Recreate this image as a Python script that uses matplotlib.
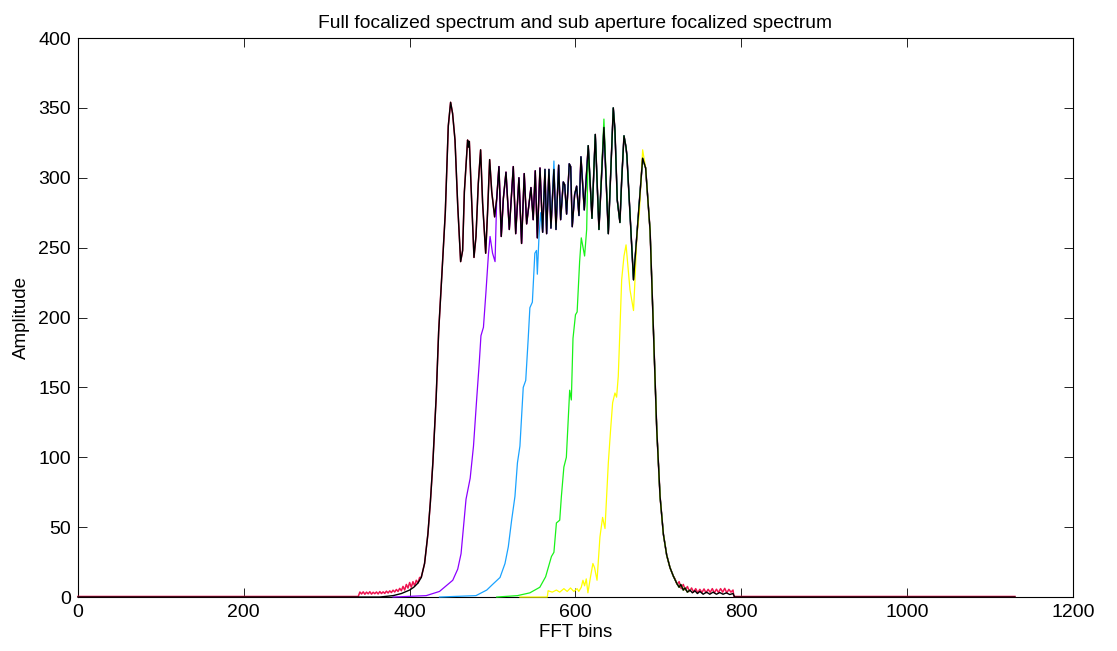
import matplotlib
matplotlib.use("Agg")
import matplotlib.pyplot as plt

plt.rcParams['font.family'] = ['Liberation Sans', 'DejaVu Sans']

# full focalized spectrum (black) as (bin, amplitude) vertices
full_bins = [0, 364, 380, 390, 396, 400, 405, 410, 414, 418, 422, 425, 428, 432, 435, 439, 443,
             446.6, 449.4, 451.8, 454.7, 458, 461.5, 463.9, 466, 469.9, 471, 472, 474, 477.6, 480,
             482.8, 485.6, 488, 491.7, 494.1, 496.5, 499, 502.5, 505, 507.7, 510.5, 513, 516.2,
             520.2, 525, 527.9, 531.8, 535, 538.2, 541.1, 546.3, 549, 551.5, 554, 557.2, 560.4,
             563.2, 565.2, 568, 570.4, 574, 576.5, 579.7, 582.1, 585.3, 587, 589.3, 592.5, 594.2,
             596.1, 599, 601.4, 604.2, 606.6, 610.6, 615.4, 619.9, 623.9, 628.3, 634.3, 639.6,
             645.6, 647.6, 650.4, 652, 653.6, 655.7, 658.5, 660.9, 662, 670, 681, 684.6, 690, 694,
             698, 702, 706, 710, 714, 718, 722, 725, 727, 730, 732, 735, 738, 741, 744, 747, 750,
             754, 758, 762, 766, 770, 774, 778, 782, 786, 790, 792, 1130]
full_vals = [0, 0, 1, 2.5, 4, 5, 7, 10, 14, 24, 45, 68, 96, 143, 190, 232, 275,
             337, 354, 346, 327, 280, 240, 248, 290, 327, 322, 326, 295, 243, 258,
             296, 320, 282, 246, 277, 313, 290, 272, 285, 308, 258, 285, 304,
             263, 308, 260, 300, 253, 303, 267, 293, 270, 305, 257, 307, 261,
             306, 260, 306, 264, 306, 263, 309, 270, 297, 295, 274, 310, 308,
             265, 288, 294, 273, 315, 277, 323, 271, 331, 263, 336, 260,
             350, 334, 284, 276, 268, 298, 330, 322, 316, 227, 314, 307, 262, 191,
             120, 72, 45, 30, 21, 15, 10, 7, 9, 5, 6.5, 3.5, 5, 3, 4.5, 2.5, 4,
             2, 3.5, 2, 3.5, 2, 3.2, 2, 3, 1.8, 2.5, 0, 0]

# red trace: flat floor plus the ripples that show beside the black one
red_left_bins = [0, 338, 340, 342, 344, 346, 348, 350, 352, 354, 356, 358, 360, 362, 364, 366, 368,
                 370, 372, 374, 376, 378, 380, 382, 384, 386, 388, 390, 392, 394, 396, 398, 400,
                 402, 404, 406, 408, 410, 412]
red_left_vals = [0.4, 0.4, 3.6, 2.2, 3.7, 2.0, 3.5, 2.3, 3.8, 2.1, 3.4, 2.4, 3.6, 2.2, 3.9, 2.5, 3.7,
                 2.6, 4.2, 2.9, 4.4, 3.2, 4.9, 3.6, 5.4, 4.0, 6.2, 4.5, 7.6, 5.0, 9.0, 6.4, 10.4,
                 7.0, 11.0, 8.0, 12.0, 10.0, 14.0]
red_right_bins = [720, 722.5, 725, 727.5, 730, 732.5, 735, 737.5, 740, 742.5, 745, 747.5, 750,
                  752.5, 755, 757.5, 760, 762.5, 765, 767.5, 770, 772.5, 775, 777.5, 780, 782.5,
                  785, 787.5, 790, 791, 1130]
red_right_vals = [13, 9, 11, 6, 9, 5, 7.5, 4, 6.5, 3.5, 6, 3, 5.5,
                  3.2, 5.8, 3, 5.5, 3.4, 6, 3, 5.6, 3.2, 6, 3.5, 6.2, 3,
                  5.5, 3.5, 5, 0.4, 0.4]

# sub aperture spectra: their own rising edge, then they sit under the full spectrum
purple_bins = [380, 420, 436, 452, 458, 462, 468, 473, 477, 481, 484, 486, 489, 492, 495, 497, 500, 503]
purple_vals = [0, 1, 4, 12, 20, 31, 70, 85, 108, 143, 168, 187, 193, 218, 245, 258, 246, 240]
blue_bins = [436, 480, 493, 500, 509, 515, 519, 523, 527, 530, 533, 537, 540, 543, 545, 548, 551,
             553, 554, 556, 558]
blue_vals = [0, 1, 5, 9, 14, 24, 36, 55, 72, 96, 108, 150, 155, 185, 207, 211, 246,
             248, 231, 258, 275]
green_bins = [505, 530, 545, 557, 564, 571, 574, 577, 581, 583, 586, 589, 591, 593, 595, 597, 600,
              602, 605, 607, 611, 613.5]
green_vals = [0, 1, 3, 7, 14.5, 29, 32, 53, 55, 72, 93, 100, 124, 148, 141, 185, 202,
              204, 240, 257, 244, 263]
yellow_bins = [533, 566, 567, 572, 577, 581, 586, 590, 594, 598, 602, 604, 607, 609, 611, 613, 615,
               618, 621, 623, 626, 629.5, 632.7, 635.6, 639.6, 642.4, 644.8, 647.6, 649.6, 651.6,
               653.6, 655.7, 658.5, 661, 665.7, 668, 670, 672, 674, 677]
yellow_vals = [0, 0, 4.5, 3.5, 5, 3.5, 6, 4, 6.5, 4, 6, 4, 7, 12, 8, 13, 3,
               14, 24, 21, 12, 43, 57, 49, 96, 120, 139, 146, 143, 158,
               191, 227, 244, 252, 220, 212, 205, 230, 258, 275]

# peaks where a sub aperture pokes out above the black curve
blue_tips = {574: 312}
green_tips = {634.3: 342}
yellow_tips = {681: 320}
SUB_END = 738  # sub apertures stop in the tail, under the black ripple


def join_full(bins, vals, tips=None):
    """Own rising edge followed by the full spectrum vertices after it."""
    tips = tips or {}
    xs, ys = list(bins), list(vals)
    for b, v in zip(full_bins, full_vals):
        if bins[-1] < b <= SUB_END:
            xs.append(b)
            ys.append(tips.get(b, v))
    return xs, ys


red_x = red_left_bins + [b for b in full_bins if 412 < b < 720] + red_right_bins
red_y = red_left_vals + [v for b, v in zip(full_bins, full_vals) if 412 < b < 720] + red_right_vals

fig = plt.figure(figsize=(11.17, 6.51), dpi=100)
ax = fig.add_axes([0.0698, 0.0829, 0.8908, 0.8587])

kw = dict(clip_on=False, zorder=3)
ax.plot(red_x, red_y, color='#ee1450', lw=1.1, **kw)
ax.plot(*join_full(purple_bins, purple_vals), color='#8c00ff', lw=0.9, **kw)
ax.plot(*join_full(blue_bins, blue_vals, blue_tips), color='#1aa3ff', lw=0.9, **kw)
ax.plot(*join_full(green_bins, green_vals, green_tips), color='#19f219', lw=0.9, **kw)
ax.plot(*join_full(yellow_bins, yellow_vals, yellow_tips), color='#ffff00', lw=0.9, **kw)
ax.plot(full_bins, full_vals, color='black', lw=1.0, **kw)

ax.set_xlim(0, 1200)
ax.set_ylim(0, 400)
ax.set_xticks(range(0, 1201, 200))
ax.set_yticks(range(0, 401, 50))
ax.tick_params(direction='in', top=True, right=True, length=6.5, width=0.6,
               labelsize=14, pad=5)
for s in ax.spines.values():
    s.set_linewidth(0.8)

ax.set_title('Full focalized spectrum and sub aperture focalized spectrum', fontsize=13.9, pad=7)
ax.set_xlabel('FFT bins', fontsize=13.5, labelpad=2)
ax.set_ylabel('Amplitude', fontsize=13.5, labelpad=6)

fig.savefig('out.png', dpi=100)
